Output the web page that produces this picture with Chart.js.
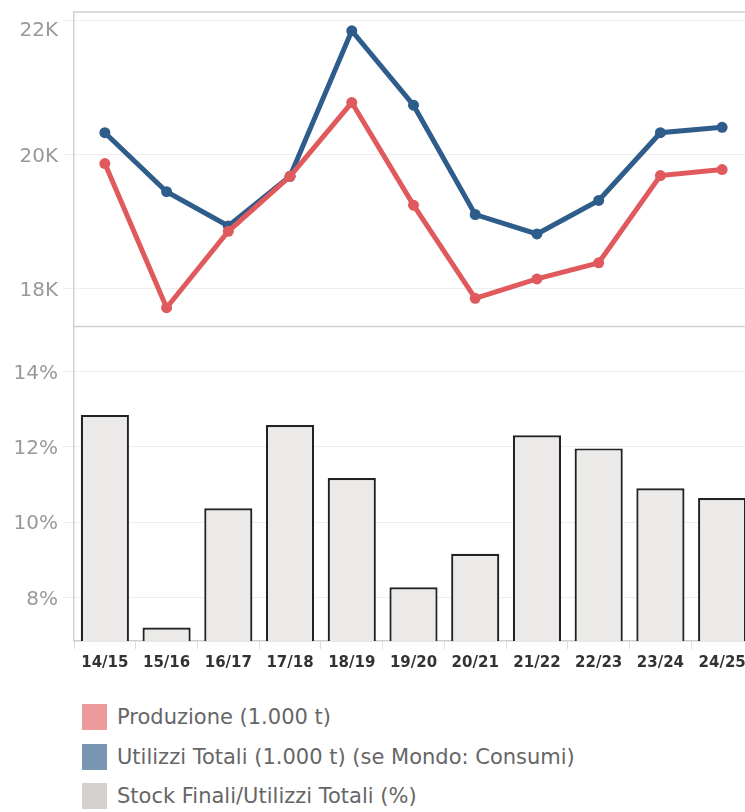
<!DOCTYPE html>
<html>
<head>
<meta charset="utf-8">
<script src="https://cdn.jsdelivr.net/npm/chart.js@4"></script>
<style>
  html, body { margin: 0; padding: 0; background: #fff; overflow: hidden; }
  #wrap { position: absolute; left: 0; top: 0; width: 760px; height: 680px; }
  #legend { position: absolute; left: 82px; top: 704px; font-family: "DejaVu Sans", sans-serif; font-size: 21px; color: #666; }
  .row { position: relative; height: 39.5px; }
  .sw { position: absolute; left: 0; top: 0; width: 25px; height: 26px; }
  .lbl { position: absolute; left: 35px; top: 0px; line-height: 26px; white-space: nowrap; }
</style>
</head>
<body>
<div id="wrap"><canvas id="chart" width="760" height="680"></canvas></div>
<div id="legend"></div>
<script>
const seasons = ['14/15', '15/16', '16/17', '17/18', '18/19', '19/20', '20/21', '21/22', '22/23', '23/24', '24/25'];
const produzione = [19870, 17720, 18860, 19680, 20780, 19250, 17860, 18150, 18390, 19690, 19780];
const utilizzi = [20330, 19450, 18940, 19680, 21850, 20740, 19110, 18820, 19320, 20330, 20410];
const stockRatio = [12.85, 7.2, 10.37, 12.58, 11.17, 8.27, 9.16, 12.31, 11.96, 10.9, 10.64];

const lineTicks = [18000, 20000, 22000];
const pctTicks = [8, 10, 12, 14];

const seriesNames = ['Produzione (1.000 t)', 'Utilizzi Totali (1.000 t) (se Mondo: Consumi)', 'Stock Finali/Utilizzi Totali (%)'];
const legendColors = ['#ec9a9b', '#7896b4', '#d5d1ce'];

// frame lines around the top panel
const framePlugin = {
  id: 'frame',
  beforeDatasetsDraw(chart) {
    const { ctx, chartArea } = chart;
    const top = chart.scales.yLine;
    ctx.save();
    ctx.strokeStyle = '#cfcfcf';
    ctx.lineWidth = 1.5;
    ctx.beginPath();
    ctx.moveTo(chartArea.left, chartArea.top);
    ctx.lineTo(chartArea.right, chartArea.top);
    ctx.moveTo(chartArea.left, top.bottom);
    ctx.lineTo(chartArea.right, top.bottom);
    ctx.stroke();
    ctx.restore();
  }
};

const fixTicks = (list) => (scale) => { scale.ticks = list.map(v => ({ value: v })); };
const fixWidth = (scale) => {
  scale.width = 74;
  scale.paddingTop = 0;
  scale.paddingBottom = 0;
};

const ctx = document.getElementById('chart').getContext('2d');
new Chart(ctx, {
  data: {
    labels: seasons,
    datasets: [
      {
        type: 'line', label: seriesNames[0], data: produzione, yAxisID: 'yLine',
        borderColor: '#e05a5d', backgroundColor: '#e05a5d', borderWidth: 5,
        pointRadius: 5.5, pointBorderWidth: 0, tension: 0
      },
      {
        type: 'line', label: seriesNames[1], data: utilizzi, yAxisID: 'yLine',
        borderColor: '#2e5d8b', backgroundColor: '#2e5d8b', borderWidth: 5,
        pointRadius: 5.5, pointBorderWidth: 0, tension: 0
      },
      {
        type: 'bar', label: seriesNames[2], data: stockRatio, yAxisID: 'yBar',
        backgroundColor: '#ebeae8', borderColor: '#222', borderWidth: 2.2,
        borderSkipped: 'bottom', categoryPercentage: 1, barPercentage: 0.78
      }
    ]
  },
  options: {
    responsive: false,
    animation: false,
    devicePixelRatio: 1,
    layout: { padding: { left: 0, top: 12, right: 7, bottom: 0 } },
    plugins: { legend: { display: false }, tooltip: { enabled: false } },
    scales: {
      x: {
        type: 'category', offset: true,
        grid: { display: true, drawOnChartArea: false, offset: true, tickLength: 8, color: '#ddd' },
        border: { color: '#cfcfcf', width: 1.5 },
        ticks: { color: '#333', font: { family: 'DejaVu Sans', size: 15, weight: 'bold' }, padding: 5, maxRotation: 0 },
        afterFit(scale) { scale.height = 39; scale.paddingLeft = 0; scale.paddingRight = 0; }
      },
      yBar: {
        type: 'linear', position: 'left', stack: 'panels', stackWeight: 1,
        min: 6.84, max: 15.2,
        afterBuildTicks: fixTicks(pctTicks),
        grid: { color: '#eeeeee', tickLength: 11 },
        border: { color: '#cfcfcf', width: 1.5 },
        ticks: { color: '#999', font: { family: 'DejaVu Sans', size: 20 }, padding: 5, labelOffset: 2, callback: v => v + '%' },
        afterFit: fixWidth
      },
      yLine: {
        type: 'linear', position: 'left', stack: 'panels', stackWeight: 1,
        min: 17440, max: 22130,
        afterBuildTicks: fixTicks(lineTicks),
        grid: { color: '#eeeeee', tickLength: 11 },
        border: { color: '#cfcfcf', width: 1.5 },
        ticks: {
          color: '#999', font: { family: 'DejaVu Sans', size: 20, lineHeight: 0.8 }, padding: 5, labelOffset: 2,
          // the top label is pushed down inside the panel
          callback: v => v === lineTicks[lineTicks.length - 1] ? ['', (v / 1000) + 'K'] : (v / 1000) + 'K'
        },
        afterFit: fixWidth
      }
    }
  },
  plugins: [framePlugin]
});

const legend = document.getElementById('legend');
seriesNames.forEach((name, i) => {
  const row = document.createElement('div');
  row.className = 'row';
  const sw = document.createElement('div');
  sw.className = 'sw';
  sw.style.background = legendColors[i];
  const lbl = document.createElement('div');
  lbl.className = 'lbl';
  lbl.textContent = name;
  row.appendChild(sw);
  row.appendChild(lbl);
  legend.appendChild(row);
});
</script>
</body>
</html>
